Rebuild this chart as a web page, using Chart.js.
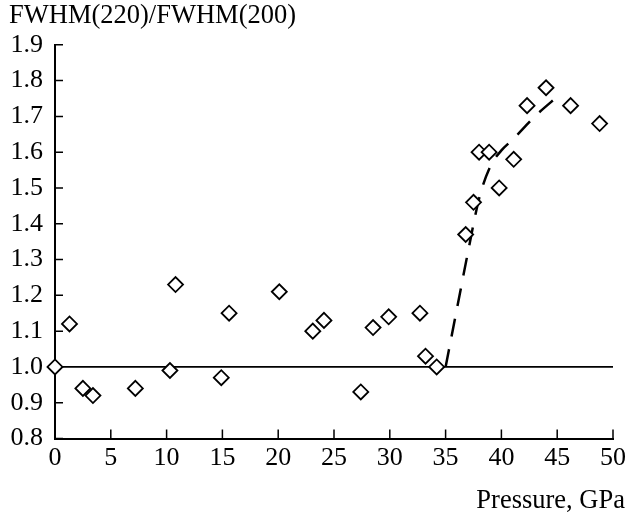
<!DOCTYPE html>
<html>
<head>
<meta charset="utf-8">
<script src="https://cdn.jsdelivr.net/npm/chart.js@4.4.0/dist/chart.umd.min.js"></script>
<style>
  html, body { margin: 0; padding: 0; background: #fff; }
</style>
</head>
<body>
<canvas id="fwhm" width="626" height="514"></canvas>
<script>
// measured points (pressure in GPa, FWHM ratio)
const pressure = [0, 1.3, 2.5, 3.4, 7.2, 10.3, 10.8, 14.9, 15.6, 20.1, 23.1, 24.1, 27.4, 28.5, 29.9, 32.7, 33.2, 34.2, 36.8, 37.5, 38.0, 38.9, 39.8, 41.1, 42.3, 44.0, 46.2, 48.8];
const ratio = [1.00, 1.12, 0.94, 0.92, 0.94, 0.99, 1.23, 0.97, 1.15, 1.21, 1.10, 1.13, 0.93, 1.11, 1.14, 1.15, 1.03, 1.00, 1.37, 1.46, 1.60, 1.60, 1.50, 1.58, 1.73, 1.78, 1.73, 1.68];

// dashed guide curve
const fitPressure = [35, 36, 37, 38, 39, 40, 41, 43, 45.2];
const fitRatio = [1.00, 1.16, 1.32, 1.47, 1.56, 1.605, 1.635, 1.70, 1.76];

// reference level
const basePressure = [0, 50];
const baseRatio = [1.0, 1.0];

const xTicks = [0, 5, 10, 15, 20, 25, 30, 35, 40, 45, 50];
const yTicks = [0.8, 0.9, 1.0, 1.1, 1.2, 1.3, 1.4, 1.5, 1.6, 1.7, 1.8, 1.9];

const serif = 'Liberation Serif';

function toPoints(xs, ys) {
  return xs.map((x, i) => ({ x: x, y: ys[i] }));
}

// tick marks pointing into the plot
const inwardTicks = {
  id: 'inwardTicks',
  beforeDatasetsDraw(chart) {
    const ctx = chart.ctx;
    const area = chart.chartArea;
    const x = chart.scales.x;
    const y = chart.scales.y;
    ctx.save();
    ctx.strokeStyle = '#000';
    ctx.lineWidth = 1.5;
    ctx.beginPath();
    xTicks.forEach(v => {
      const px = x.getPixelForValue(v);
      ctx.moveTo(px, area.bottom);
      ctx.lineTo(px, area.bottom - 9);
    });
    yTicks.forEach(v => {
      const py = y.getPixelForValue(v);
      ctx.moveTo(area.left, py);
      ctx.lineTo(area.left + 8, py);
    });
    ctx.stroke();
    ctx.restore();
  }
};

const ctx = document.getElementById('fwhm').getContext('2d');
const chart = new Chart(ctx, {
  type: 'scatter',
  data: {
    datasets: [
      {
        data: toPoints(pressure, ratio),
        pointStyle: 'rectRot',
        pointRadius: 7.5,
        pointBorderWidth: 1.8,
        pointBackgroundColor: '#fff',
        pointBorderColor: '#000',
        clip: false
      },
      {
        data: toPoints(fitPressure, fitRatio),
        showLine: true,
        borderColor: '#000',
        borderWidth: 2.5,
        borderDash: [18, 13],
        tension: 0.4,
        cubicInterpolationMode: 'monotone',
        pointRadius: 0
      },
      {
        data: toPoints(basePressure, baseRatio),
        showLine: true,
        borderColor: '#000',
        borderWidth: 1.6,
        pointRadius: 0
      }
    ]
  },
  options: {
    responsive: false,
    animation: false,
    layout: {
      padding: { left: 9, right: 1, top: 0, bottom: 0 }
    },
    plugins: {
      legend: { display: false },
      tooltip: { enabled: false },
      title: {
        display: true,
        text: 'FWHM(220)/FWHM(200)',
        align: 'start',
        color: '#000',
        font: { family: serif, size: 26.5, weight: 'normal' },
        padding: { top: 0, bottom: 13 }
      },
      subtitle: {
        display: true,
        position: 'bottom',
        text: 'Pressure, GPa',
        align: 'end',
        color: '#000',
        font: { family: serif, size: 26.5, weight: 'normal', lineHeight: 1.0 },
        padding: { top: 19, bottom: 0 }
      }
    },
    scales: {
      x: {
        type: 'linear',
        min: 0,
        max: 50,
        afterBuildTicks: s => { s.ticks = xTicks.map(v => ({ value: v })); },
        afterFit: s => { s.height = 30; s.paddingRight = 13; },
        grid: { display: false, drawTicks: false },
        border: { display: true, color: '#000', width: 2 },
        ticks: {
          color: '#000',
          padding: 4,
          maxRotation: 0,
          font: { family: serif, size: 26 }
        }
      },
      y: {
        min: 0.8,
        max: 1.9,
        afterBuildTicks: s => { s.ticks = yTicks.map(v => ({ value: v })); },
        afterFit: s => { s.width = 46; },
        grid: { display: false, drawTicks: false },
        border: { display: true, color: '#000', width: 2 },
        ticks: {
          color: '#000',
          padding: 12,
          font: { family: serif, size: 26 },
          callback: v => v.toFixed(1)
        }
      }
    }
  },
  plugins: [inwardTicks]
});
</script>
</body>
</html>
